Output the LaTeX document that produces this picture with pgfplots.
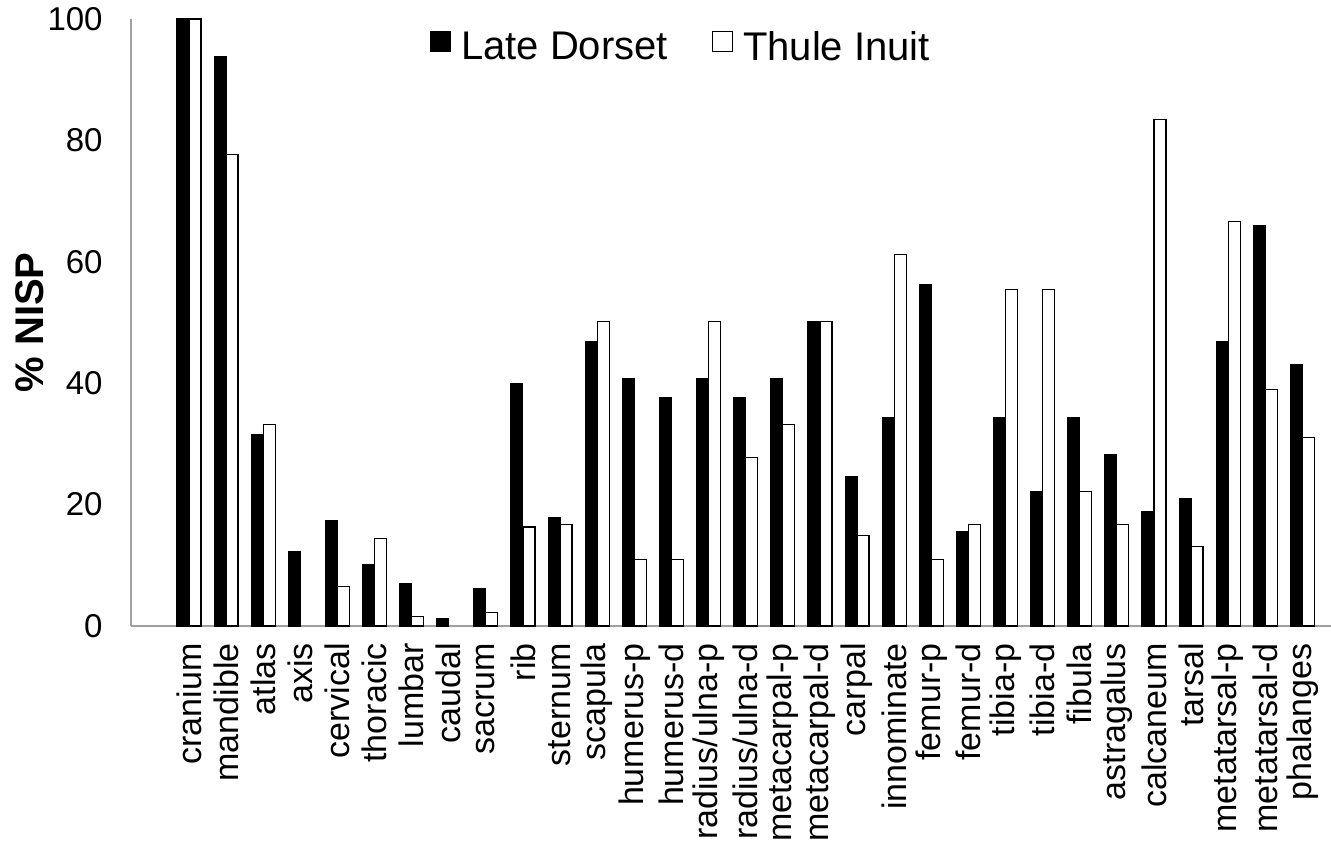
\documentclass[border=0pt]{standalone}
\usepackage{fontspec}
\setmainfont{Liberation Sans}
\usepackage{pgfplots}
\pgfplotsset{compat=1.18}
\usepackage{pgfplotstable}
\definecolor{axgray}{RGB}{160,160,160}
\pgfplotstableread{
idx LD TI
0 100 100
1 93.9 77.7
2 31.5 33.2
3 12.3 nan
4 17.4 6.5
5 10.1 14.4
6 7.0 1.6
7 1.2 nan
8 6.1 2.2
9 40.0 16.3
10 17.9 16.7
11 46.9 50.1
12 40.8 10.9
13 37.6 10.9
14 40.8 50.1
15 37.6 27.8
16 40.8 33.2
17 50.1 50.1
18 24.6 14.9
19 34.4 61.2
20 56.2 10.9
21 15.6 16.7
22 34.3 55.4
23 22.1 55.4
24 34.3 22.1
25 28.2 16.7
26 18.8 83.5
27 21.0 13.1
28 46.9 66.6
29 65.9 39.0
30 43.0 31.0
}\datatable
\begin{document}
\begin{tikzpicture}
\useasboundingbox (-65.5pt,-109.5pt) rectangle (600pt,313pt);
\begin{axis}[
  at={(0pt,0pt)}, anchor=south west,
  scale only axis, width=600pt, height=303.5pt,
  ybar=0pt, bar width=6pt,
  xmin=-1.56, xmax=30.77, ymin=0, ymax=100,
  clip=false,
  axis x line=bottom, axis y line=left,
  axis line style={draw=axgray, line width=1.3pt, -},
  major tick length=0pt,
  ytick={0,20,...,100},
  xtick={0,...,30},
  xticklabels={cranium,mandible,atlas,axis,cervical,thoracic,lumbar,caudal,sacrum,rib,sternum,scapula,humerus-p,humerus-d,radius/ulna-p,radius/ulna-d,metacarpal-p,metacarpal-d,carpal,innominate,femur-p,femur-d,tibia-p,tibia-d,fibula,astragalus,calcaneum,tarsal,metatarsal-p,metatarsal-d,phalanges},
  xticklabel style={yshift=-8.5pt, rotate=90, anchor=east, inner sep=0pt, font=\fontsize{17}{20}\selectfont},
  yticklabel style={anchor=east, inner sep=0pt, xshift=-14pt, font=\fontsize{16.5}{19}\selectfont},
  /pgf/number format/assume math mode=true,
  ylabel={\% NISP},
  ylabel style={at={([xshift=-50.5pt]axis description cs:0,0.5)}, anchor=center, font=\fontsize{20}{24}\selectfont\bfseries},
  legend style={at={(0.4575,0.954)}, anchor=center, draw=none, fill=none, legend columns=2,
    font=\fontsize{20}{24}\selectfont, nodes={inner sep=0pt},
    /tikz/every odd column/.append style={column sep=5pt},
    /tikz/every even column/.append style={column sep=22pt}},
]
\addplot[fill=black, draw=black, line width=0.5pt,
  legend image code/.code={\draw[fill=black,draw=black] (0pt,-2.2pt) rectangle (10pt,7.8pt);}]
  table[x=idx, y=LD] {\datatable};
\addplot[fill=white, draw=black, line width=0.6pt,
  legend image code/.code={\draw[fill=white,draw=black,line width=0.6pt] (0pt,-2.2pt) rectangle (10pt,7.8pt);}]
  table[x=idx, y=TI] {\datatable};
\legend{Late Dorset, Thule Inuit}
\end{axis}
\end{tikzpicture}
\end{document}
